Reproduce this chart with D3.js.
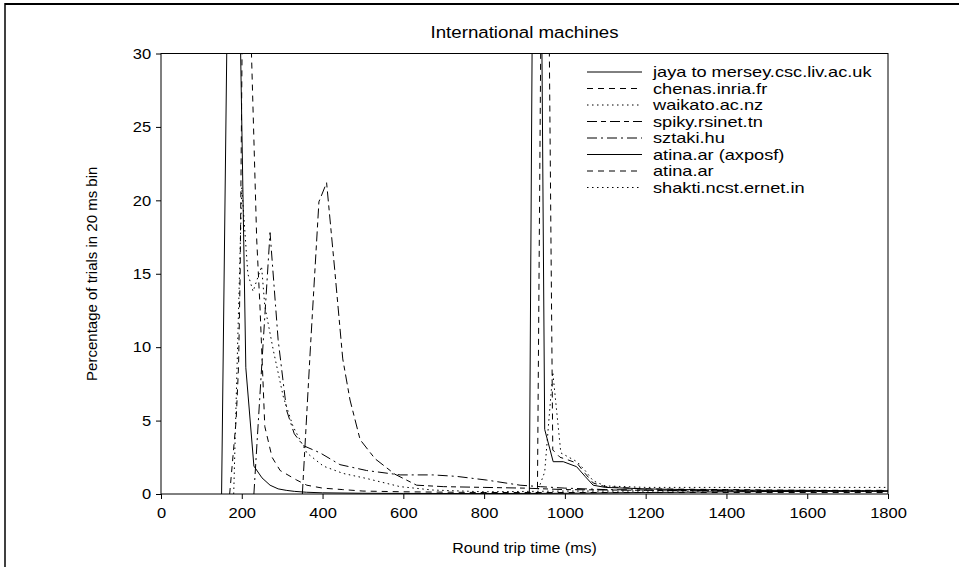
<!DOCTYPE html>
<html>
<head>
<meta charset="utf-8">
<script src="https://cdn.jsdelivr.net/npm/d3@7"></script>
<style>
  html, body { margin: 0; padding: 0; background: #fff; }
  svg { display: block; }
  text { font-family: "Liberation Sans", Arial, Helvetica, sans-serif; fill: #000; }
</style>
</head>
<body>
<svg id="chart" width="959" height="567"></svg>
<script>
// Round-trip time histograms (20 ms bins) for international hosts
const chartTitle = "International machines";
const xLabel = "Round trip time (ms)";
const yLabel = "Percentage of trials in 20 ms bin";

const xTicks = [0, 200, 400, 600, 800, 1000, 1200, 1400, 1600, 1800];
const yTicks = [0, 5, 10, 15, 20, 25, 30];

const seriesNames = [
  "jaya to mersey.csc.liv.ac.uk",
  "chenas.inria.fr",
  "waikato.ac.nz",
  "spiky.rsinet.tn",
  "sztaki.hu",
  "atina.ar (axposf)",
  "atina.ar",
  "shakti.ncst.ernet.in"
];

// RTT (ms) and share of trials (%) for each host
const jayaMs  = [150, 170, 190, 210, 230, 250, 270, 290, 310, 330, 360, 400, 500, 600, 800, 1000, 1200, 1400, 1600, 1800];
const jayaPct = [0, 47, 42, 8.6, 1.9, 1.1, 0.6, 0.35, 0.25, 0.18, 0.12, 0.08, 0.05, 0.04, 0.03, 0.05, 0.1, 0.15, 0.18, 0.2];

const chenasMs  = [170, 186, 192, 196, 210, 224, 237, 245, 257, 275, 295, 336, 361, 400, 450, 500, 600, 800, 1000, 1200, 1500, 1800];
const chenasPct = [0, 5, 8.7, 15, 60, 30, 17.3, 12.8, 4.6, 2.5, 1.6, 0.95, 0.6, 0.4, 0.3, 0.2, 0.15, 0.1, 0.1, 0.1, 0.1, 0.1];

const waikatoMs  = [180, 200, 215, 228, 249, 257, 278, 303, 327, 361, 402, 451, 510, 592, 673, 800, 1000, 1200, 1500, 1800];
const waikatoPct = [0, 20.9, 15.0, 13.8, 15.5, 12.8, 9.8, 6.6, 4.6, 2.8, 1.9, 1.4, 1.05, 0.5, 0.27, 0.15, 0.2, 0.2, 0.2, 0.2];

const spikyMs  = [350, 370, 391, 410, 430, 450, 468, 493, 530, 579, 633, 700, 800, 900, 1000, 1200, 1500, 1800];
const spikyPct = [0, 10, 19.9, 21.2, 15.3, 9.2, 6.4, 3.7, 2.4, 1.35, 0.6, 0.5, 0.45, 0.4, 0.3, 0.25, 0.2, 0.2];

const sztakiMs  = [230, 250, 270, 290, 311, 330, 352, 394, 443, 509, 592, 673, 732, 806, 889, 940, 1000, 1100, 1300, 1500, 1800];
const sztakiPct = [0, 9, 17.8, 10.5, 5.7, 4.1, 3.3, 2.8, 2.0, 1.6, 1.3, 1.3, 1.2, 0.95, 0.6, 0.5, 0.4, 0.3, 0.25, 0.2, 0.2];

const atinaAxMs  = [900, 912, 930, 950, 971, 996, 1029, 1050, 1070, 1100, 1200, 1300, 1400, 1500, 1600, 1700, 1800];
const atinaAxPct = [0, 0, 80, 4.4, 2.2, 2.2, 1.86, 1.2, 0.6, 0.45, 0.35, 0.3, 0.28, 0.25, 0.25, 0.22, 0.2];

const atinaMs  = [920, 932, 950, 970, 988, 1010, 1030, 1050, 1070, 1100, 1200, 1400, 1600, 1800];
const atinaPct = [0, 0, 67, 3.0, 2.5, 2.3, 2.1, 1.4, 0.75, 0.5, 0.35, 0.3, 0.25, 0.25];

const shaktiMs  = [930, 950, 970, 990, 1010, 1030, 1050, 1070, 1100, 1200, 1400, 1600, 1800];
const shaktiPct = [0, 1.5, 8.3, 2.8, 2.5, 2.2, 1.6, 0.9, 0.55, 0.45, 0.45, 0.45, 0.45];

// stroke patterns per host, in legend order
const dashSolid = null, dashShort = "6,5", dashDot = "1.5,3.5", dashLongShort = "10,4,5,4", dashDashDot = "10,4,2,4";

const series = [
  { name: seriesNames[0], ms: jayaMs,    pct: jayaPct,    dash: dashSolid },
  { name: seriesNames[1], ms: chenasMs,  pct: chenasPct,  dash: dashShort },
  { name: seriesNames[2], ms: waikatoMs, pct: waikatoPct, dash: dashDot },
  { name: seriesNames[3], ms: spikyMs,   pct: spikyPct,   dash: dashLongShort },
  { name: seriesNames[4], ms: sztakiMs,  pct: sztakiPct,  dash: dashDashDot },
  { name: seriesNames[5], ms: atinaAxMs, pct: atinaAxPct, dash: dashSolid },
  { name: seriesNames[6], ms: atinaMs,   pct: atinaPct,   dash: dashShort },
  { name: seriesNames[7], ms: shaktiMs,  pct: shaktiPct,  dash: dashDot }
];

const svg = d3.select("#chart");
const plot = { left: 161, right: 888, top: 53.5, bottom: 494 };
// horizontal text is set slightly wide, like the original PostScript output
const wide = 1.1;
const legendWide = 1.3;

const x = d3.scaleLinear().domain([0, 1800]).range([plot.left, plot.right]);
const y = d3.scaleLinear().domain([0, 30]).range([plot.bottom, plot.top]);

// outer figure border (top and left edges)
svg.append("line").attr("x1", 5).attr("x2", 959).attr("y1", 4).attr("y2", 4)
  .attr("stroke", "#000").attr("stroke-width", 2);
svg.append("line").attr("x1", 5).attr("x2", 5).attr("y1", 3).attr("y2", 567)
  .attr("stroke", "#000").attr("stroke-width", 1.5);

svg.append("defs").append("clipPath").attr("id", "plotClip")
  .append("rect")
  .attr("x", plot.left).attr("y", plot.top)
  .attr("width", plot.right - plot.left).attr("height", plot.bottom - plot.top);

// data lines
const line = d3.line().x(d => x(d[0])).y(d => y(d[1]));
const lines = svg.append("g").attr("clip-path", "url(#plotClip)");
series.forEach(s => {
  const pts = s.ms.map((m, i) => [m, s.pct[i]]);
  lines.append("path")
    .datum(pts)
    .attr("d", line)
    .attr("fill", "none")
    .attr("stroke", "#000")
    .attr("stroke-width", 1)
    .attr("stroke-dasharray", s.dash);
});

// plot frame
svg.append("rect")
  .attr("x", plot.left).attr("y", plot.top)
  .attr("width", plot.right - plot.left).attr("height", plot.bottom - plot.top)
  .attr("fill", "none").attr("stroke", "#000").attr("stroke-width", 1);

// axes
const xAxis = svg.append("g")
  .attr("transform", `translate(0,${plot.bottom})`)
  .call(d3.axisBottom(x).tickValues(xTicks).tickSize(5).tickPadding(8).tickFormat(d3.format("d")));
const yAxis = svg.append("g")
  .attr("transform", `translate(${plot.left},0)`)
  .call(d3.axisLeft(y).tickValues(yTicks).tickSize(5).tickPadding(4).tickFormat(d3.format("d")));
[xAxis, yAxis].forEach(g => {
  g.select(".domain").remove();
  g.selectAll(".tick line").attr("stroke", "#000");
  g.selectAll(".tick text").attr("font-size", 15)
    .attr("transform", `scale(${wide},1)`)
    .style("font-family", "'Liberation Sans', Arial, sans-serif");
});

function wideText(px, py, size, str, anchor, sx) {
  return svg.append("text")
    .attr("transform", `translate(${px},${py}) scale(${sx},1)`)
    .attr("text-anchor", anchor).attr("font-size", size).text(str);
}

// title and axis labels
wideText((plot.left + plot.right) / 2, 38, 17, chartTitle, "middle", wide);
wideText((plot.left + plot.right) / 2, 553, 14.5, xLabel, "middle", wide);
svg.append("text")
  .attr("transform", `translate(97,${(plot.top + plot.bottom) / 2}) rotate(-90)`)
  .attr("text-anchor", "middle").attr("font-size", 15).text(yLabel);

// legend
series.forEach((s, i) => {
  const ly = 72 + i * 16.5;
  svg.append("line")
    .attr("x1", 587).attr("x2", 642).attr("y1", ly).attr("y2", ly)
    .attr("stroke", "#000").attr("stroke-width", 1)
    .attr("stroke-dasharray", s.dash);
  wideText(653, ly + 5, 14, s.name, "start", legendWide);
});
</script>
</body>
</html>
